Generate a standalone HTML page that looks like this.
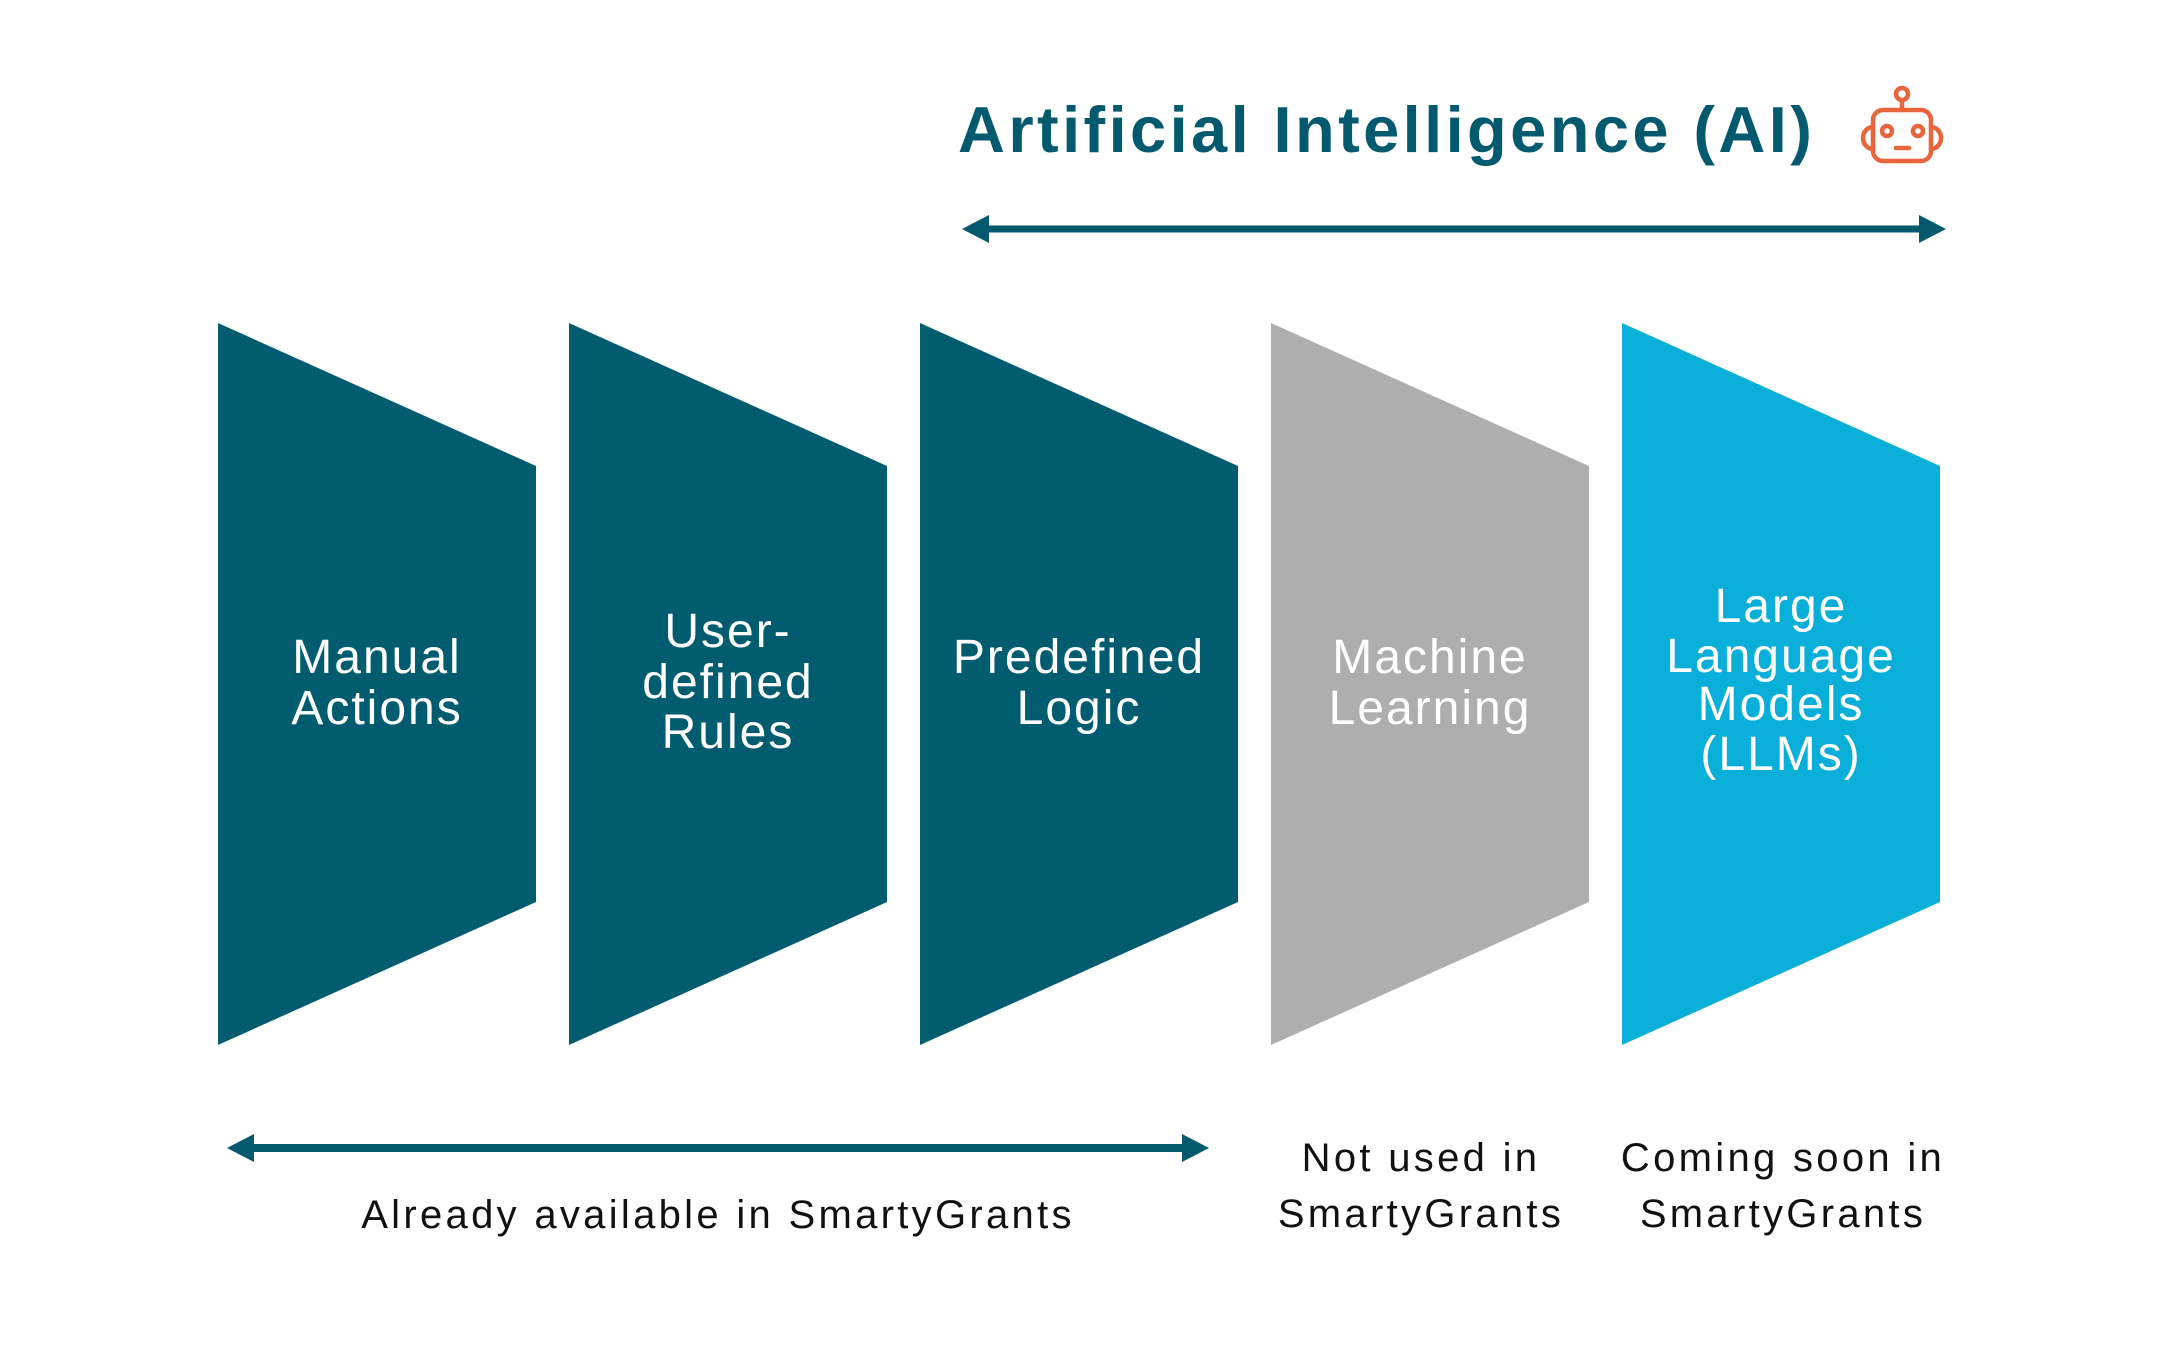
<!DOCTYPE html>
<html>
<head>
<meta charset="utf-8">
<style>
  html, body { margin: 0; padding: 0; background: #ffffff; }
  body { width: 2182px; height: 1368px; overflow: hidden; }
  svg { display: block; }
</style>
</head>
<body>
<svg width="2182" height="1368" viewBox="0 0 2182 1368" xmlns="http://www.w3.org/2000/svg">
  <rect width="2182" height="1368" fill="#ffffff"/>

  <!-- Title -->
  <text x="958" y="152" font-family="Liberation Sans, Arial, sans-serif" font-weight="bold" font-size="65" letter-spacing="3.4" fill="#035a6e">Artificial Intelligence (AI)</text>

  <!-- Robot icon -->
  <g fill="none" stroke="#e8643a" stroke-width="4.5" stroke-linecap="round" stroke-linejoin="round">
    <circle cx="1902" cy="94" r="6"/>
    <line x1="1902" y1="100" x2="1902" y2="110"/>
    <rect x="1873" y="110" width="58" height="51" rx="10" ry="10"/>
    <path d="M1873 127 A10 11 0 0 0 1873 149"/>
    <path d="M1931 127 A10 11 0 0 1 1931 149"/>
    <circle cx="1887" cy="131" r="5"/>
    <circle cx="1918" cy="131" r="5"/>
    <line x1="1896" y1="148" x2="1909" y2="148"/>
  </g>

  <!-- Top double arrow -->
  <g fill="#035a6e">
    <rect x="985" y="225.5" width="938" height="7"/>
    <polygon points="962,229 989,215 989,243"/>
    <polygon points="1946,229 1919,215 1919,243"/>
  </g>

  <!-- Shapes -->
  <polygon points="218,323 536,466 536,902 218,1045" fill="#025c70"/>
  <polygon points="569,323 887,466 887,902 569,1045" fill="#025c70"/>
  <polygon points="920,323 1238,466 1238,902 920,1045" fill="#025c70"/>
  <polygon points="1271,323 1589,466 1589,902 1271,1045" fill="#aeaeae"/>
  <polygon points="1622,323 1940,466 1940,902 1622,1045" fill="#09aed9"/>

  <!-- Shape labels -->
  <g font-family="Liberation Sans, Arial, sans-serif" font-size="48" letter-spacing="2" fill="#ffffff" text-anchor="middle">
    <text x="377" y="673">Manual</text>
    <text x="377" y="724">Actions</text>

    <text x="728" y="647">User-</text>
    <text x="728" y="698">defined</text>
    <text x="728" y="748">Rules</text>

    <text x="1079" y="673">Predefined</text>
    <text x="1079" y="724">Logic</text>

    <text x="1430" y="673">Machine</text>
    <text x="1430" y="724">Learning</text>

    <text x="1781" y="622">Large</text>
    <text x="1781" y="672">Language</text>
    <text x="1781" y="720">Models</text>
    <text x="1781" y="770">(LLMs)</text>
  </g>

  <!-- Bottom double arrow -->
  <g fill="#035a6e">
    <rect x="250" y="1144" width="936" height="8"/>
    <polygon points="227,1148 254,1134 254,1162"/>
    <polygon points="1209,1148 1182,1134 1182,1162"/>
  </g>

  <!-- Bottom labels -->
  <g font-family="Liberation Sans, Arial, sans-serif" font-size="40" letter-spacing="3.3" fill="#111111" text-anchor="middle">
    <text x="718" y="1228">Already available in SmartyGrants</text>
    <text x="1421" y="1171">Not used in</text>
    <text x="1421" y="1227">SmartyGrants</text>
    <text x="1783" y="1171">Coming soon in</text>
    <text x="1783" y="1227">SmartyGrants</text>
  </g>
</svg>
</body>
</html>
